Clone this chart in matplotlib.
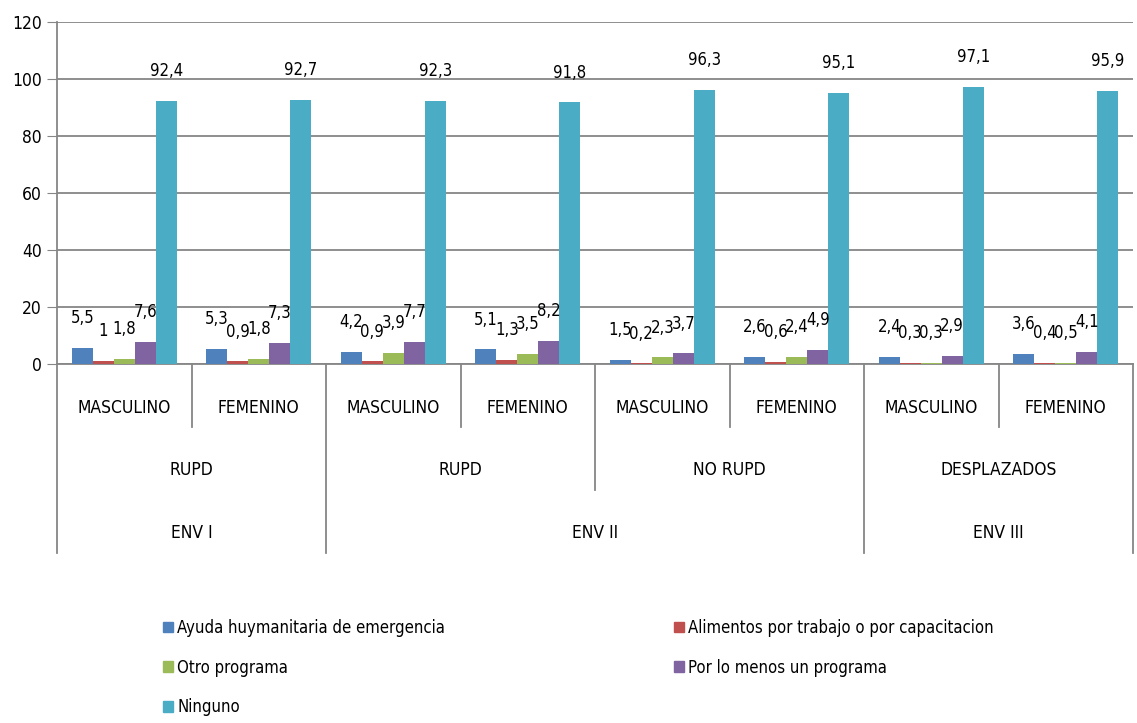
import matplotlib.pyplot as plt
from matplotlib.patches import Patch

plt.rcParams['font.family'] = ['DejaVu Sans']
plt.rcParams['font.stretch'] = 'condensed'

cats = ['MASCULINO', 'FEMENINO'] * 4
level2 = ['RUPD', 'RUPD', 'NO RUPD', 'DESPLAZADOS']
level3 = [('ENV I', 0, 2), ('ENV II', 2, 6), ('ENV III', 6, 8)]

series_names = ['Ayuda huymanitaria de emergencia',
                'Alimentos por trabajo o por capacitacion',
                'Otro programa',
                'Por lo menos un programa',
                'Ninguno']
ayuda = [5.5, 5.3, 4.2, 5.1, 1.5, 2.6, 2.4, 3.6]
alimentos = [1, 0.9, 0.9, 1.3, 0.2, 0.6, 0.3, 0.4]
otro = [1.8, 1.8, 3.9, 3.5, 2.3, 2.4, 0.3, 0.5]
al_menos = [7.6, 7.3, 7.7, 8.2, 3.7, 4.9, 2.9, 4.1]
ninguno = [92.4, 92.7, 92.3, 91.8, 96.3, 95.1, 97.1, 95.9]
series = [ayuda, alimentos, otro, al_menos, ninguno]
colors = ['#4F81BD', '#C0504D', '#9BBB59', '#8064A2', '#4BACC6']

W, H = 1137, 723
fig = plt.figure(figsize=(W / 100, H / 100), dpi=100)
# plot area in pixels: x 57..1133, y 22..364
ax = fig.add_axes([57 / W, 1 - 364 / H, (1133 - 57) / W, (364 - 22) / H])

bw = 0.156
for k, (vals, col) in enumerate(zip(series, colors)):
    for i, v in enumerate(vals):
        x = i + 0.5 + (k - 2) * bw
        ax.bar(x, v, width=bw, color=col, zorder=3)
        ax.annotate(f'{v:g}'.replace('.', ','), (x, v), xytext=(0, 21.5),
                    textcoords='offset points', ha='center', va='center',
                    fontsize=12, zorder=4)

ax.set_xlim(0, 8)
ax.set_ylim(0, 120)
ax.set_yticks(range(0, 121, 20))
ax.tick_params(axis='y', length=7, color='#868686', labelsize=12.5, pad=4)
ax.set_xticks([])
ax.grid(axis='y', color='#868686', linewidth=1.3, zorder=0)
for s in ['top', 'right']:
    ax.spines[s].set_visible(False)
ax.spines['left'].set_color('#868686')
ax.spines['bottom'].set_color('#868686')
ax.spines['left'].set_linewidth(1.3)
ax.spines['bottom'].set_linewidth(1.3)

tr = ax.get_xaxis_transform()


def yax(p):
    return (364 - p) / 342


# hierarchical category axis
lines = {0: 553, 1: 427, 2: 553, 3: 427, 4: 490, 5: 427, 6: 553, 7: 427, 8: 553}
for x, bottom in lines.items():
    ax.plot([x, x], [0, yax(bottom)], transform=tr, color='#868686',
            linewidth=1.3, clip_on=False)
for i, c in enumerate(cats):
    ax.text(i + 0.5, yax(408), c, transform=tr, ha='center', va='center', fontsize=12.5)
for j, c in enumerate(level2):
    ax.text(2 * j + 1, yax(470), c, transform=tr, ha='center', va='center', fontsize=12.5)
for c, a, b in level3:
    ax.text((a + b) / 2, yax(533), c, transform=tr, ha='center', va='center', fontsize=12.5)

handles = [Patch(color=c, label=n) for c, n in zip(colors, series_names)]
leg_kw = dict(frameon=False, fontsize=12, handlelength=0.6, handleheight=0.6,
              handletextpad=0.25, labelspacing=1.3, borderpad=0, borderaxespad=0,
              loc='upper left')
fig.legend(handles=handles[0::2], bbox_to_anchor=(163 / W, 1 - 619 / H), **leg_kw)
fig.legend(handles=handles[1::2], bbox_to_anchor=(674 / W, 1 - 619 / H), **leg_kw)

fig.savefig('out.png', dpi=100)
